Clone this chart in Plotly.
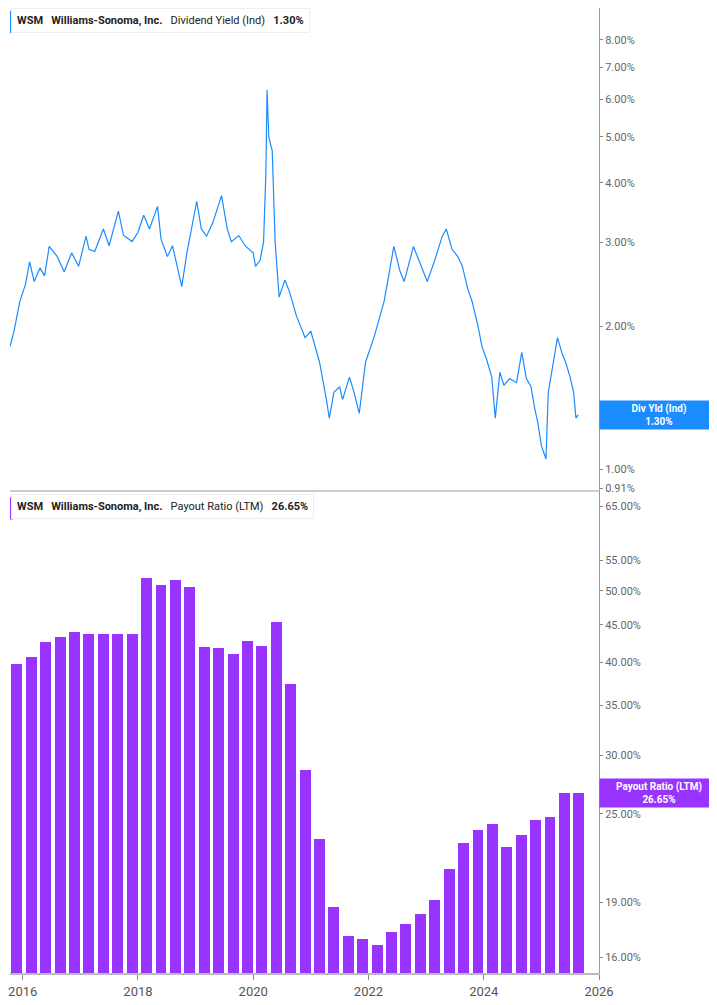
import plotly.graph_objects as go
from plotly.subplots import make_subplots

# Dividend yield (%), decimal years
yld_x = [2015.78, 2015.85, 2015.95, 2016.05, 2016.12, 2016.2, 2016.3, 2016.38, 2016.46, 2016.6,
         2016.72, 2016.85, 2016.97, 2017.1, 2017.15, 2017.25, 2017.4, 2017.5, 2017.66, 2017.75,
         2017.9, 2018.0, 2018.1, 2018.2, 2018.34, 2018.4, 2018.51, 2018.6, 2018.76, 2018.85,
         2019.02, 2019.1, 2019.19, 2019.3, 2019.45, 2019.55, 2019.62, 2019.75, 2019.87, 2020.0,
         2020.04, 2020.12, 2020.18, 2020.22, 2020.24, 2020.27, 2020.33, 2020.38, 2020.45, 2020.55,
         2020.63, 2020.75, 2020.9, 2021.0, 2021.15, 2021.22, 2021.27, 2021.32, 2021.4, 2021.5,
         2021.55, 2021.67, 2021.75, 2021.84, 2021.95, 2022.1, 2022.27, 2022.35, 2022.44, 2022.55,
         2022.62, 2022.78, 2022.9, 2023.02, 2023.15, 2023.28, 2023.35, 2023.45, 2023.55, 2023.63,
         2023.72, 2023.8, 2023.9, 2023.97, 2024.05, 2024.14, 2024.2, 2024.28, 2024.35, 2024.45,
         2024.57, 2024.66, 2024.74, 2024.82, 2024.88, 2024.94, 2025.0, 2025.08, 2025.12, 2025.18,
         2025.28, 2025.36, 2025.42, 2025.5, 2025.56, 2025.6, 2025.64]
yld_y = [1.81, 1.95, 2.25, 2.45, 2.73, 2.48, 2.65, 2.55, 2.94, 2.80,
         2.60, 2.85, 2.67, 3.09, 2.90, 2.87, 3.20, 2.95, 3.49, 3.10,
         3.01, 3.15, 3.42, 3.20, 3.57, 3.05, 2.80, 2.95, 2.42, 2.85,
         3.66, 3.20, 3.09, 3.30, 3.76, 3.20, 3.01, 3.10, 2.94, 2.85,
         2.67, 2.75, 3.01, 4.20, 6.27, 5.00, 4.67, 3.01, 2.30, 2.50,
         2.36, 2.10, 1.89, 1.95, 1.68, 1.52, 1.40, 1.28, 1.45, 1.49,
         1.40, 1.56, 1.45, 1.31, 1.68, 1.90, 2.25, 2.55, 2.94, 2.60,
         2.48, 2.94, 2.70, 2.48, 2.75, 3.09, 3.20, 2.90, 2.80, 2.67,
         2.40, 2.25, 2.00, 1.81, 1.70, 1.56, 1.28, 1.60, 1.50, 1.55,
         1.52, 1.76, 1.55, 1.49, 1.35, 1.25, 1.12, 1.05, 1.45, 1.60,
         1.89, 1.75, 1.68, 1.56, 1.45, 1.28, 1.30]

# Payout ratio (LTM, %) quarterly bars
pay_x = [2015.9 + 0.25 * i for i in range(40)]
pay_y = [39.8, 40.7, 42.6, 43.3, 43.9, 43.7, 43.7, 43.7, 43.6, 51.9,
         50.8, 51.7, 50.5, 41.9, 41.8, 41.0, 42.7, 42.1, 45.3, 37.4,
         28.6, 23.1, 18.7, 17.1, 16.9, 16.6, 17.3, 17.7, 18.3, 19.1,
         21.0, 22.8, 23.7, 24.2, 22.5, 23.4, 24.5, 24.7, 26.6, 26.65]

yld_ticks = [8, 7, 6, 5, 4, 3, 2, 1, 0.91]
pay_ticks = [65, 55, 50, 45, 40, 35, 30, 25, 19, 16]
year_ticks = [2016, 2018, 2020, 2022, 2024, 2026]

BLUE = "#1a8cff"
PURPLE = "#9933ff"
FONT = "Roboto"

fig = make_subplots(rows=2, cols=1, shared_xaxes=True, vertical_spacing=0.002)
fig.add_trace(go.Scatter(x=yld_x, y=yld_y, mode="lines", line=dict(color=BLUE, width=1.2),
                         showlegend=False), row=1, col=1)
fig.add_trace(go.Bar(x=pay_x, y=pay_y, marker_color=PURPLE, marker_line_width=0,
                     width=0.19, showlegend=False), row=2, col=1)

fig.update_xaxes(range=[2015.78, 2026], tickvals=year_ticks, showgrid=False,
                 showline=True, linecolor="#bbbbbb", linewidth=2, ticks="outside",
                 tickcolor="#888", ticklen=5, ticklabeloverflow="allow",
                 tickfont=dict(family=FONT, size=13, color="#555"))
fig.update_xaxes(showticklabels=False, ticks="", row=1, col=1)
fig.update_yaxes(side="right", type="log", showgrid=False, showline=True, linecolor="#999",
                 linewidth=1, ticks="outside", ticklen=3, tickcolor="#888",
                 tickfont=dict(family=FONT, size=11, color="#666"), zeroline=False)
fig.update_yaxes(range=[-0.043, 0.97], tickvals=yld_ticks,
                 ticktext=[f"{v:.2f}%" for v in yld_ticks], row=1, col=1)
fig.update_yaxes(range=[1.183, 1.833], tickvals=pay_ticks,
                 ticktext=[f"{v:.2f}%" for v in pay_ticks], row=2, col=1)

fig.update_layout(width=709, height=997, margin=dict(l=0, r=118, t=0, b=32),
                  plot_bgcolor="white", paper_bgcolor="white", bargap=0,
                  font=dict(family=FONT))

# separator between panels
fig.add_shape(type="line", xref="paper", yref="paper", x0=0, x1=1, y0=0.4995, y1=0.4995,
              line=dict(color="#cccccc", width=2))

def legend_box(y, color, metric, val):
    fig.add_annotation(xref="paper", yref="paper", x=0.002, y=y, xanchor="left", yanchor="top",
                       text=f"<b>WSM</b>   <b>Williams-Sonoma, Inc.</b>   {metric}   <b>{val}</b>",
                       showarrow=False, align="left", bgcolor="white", bordercolor="#eeeeee",
                       borderwidth=1, borderpad=5, font=dict(family=FONT, size=11, color="#222"))
    fig.add_shape(type="rect", xref="paper", yref="paper", x0=0.0, x1=0.005,
                  y0=y - 0.026, y1=y - 0.003, fillcolor=color, line_width=0)

legend_box(1.0, BLUE, "Dividend Yield (Ind)", "1.30%")
legend_box(0.496, PURPLE, "Payout Ratio (LTM)", "26.65%")

def value_box(yval, yref, color, label, val):
    fig.add_annotation(xref="paper", yref=yref, x=1.0, y=yval, xanchor="left", yanchor="middle",
                       text=f"<b>{label}</b><br><b>{val}</b>", showarrow=False,
                       bgcolor=color, width=116, height=26, borderpad=1,
                       font=dict(family=FONT, size=10, color="white"))

value_box(0.113, "y", BLUE, "Div Yld (Ind)", "1.30%")
value_box(1.426, "y2", PURPLE, "Payout Ratio (LTM)", "26.65%")

fig.write_html("out.html")
